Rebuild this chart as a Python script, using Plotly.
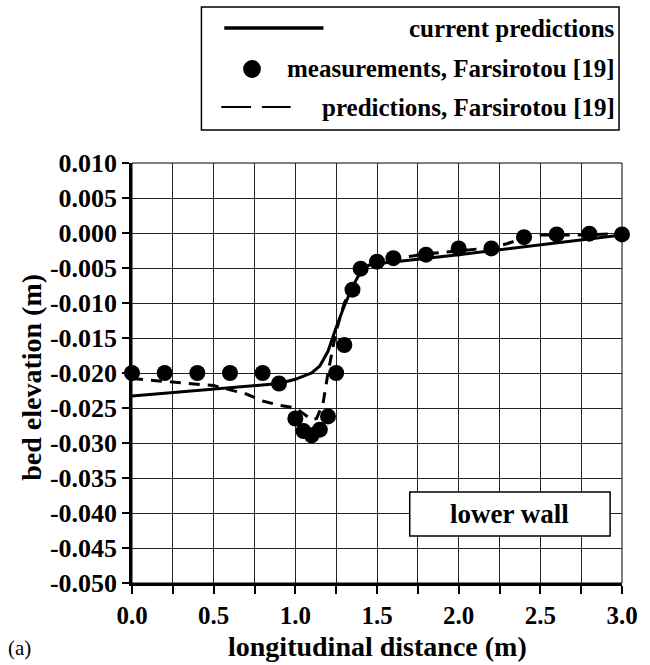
import plotly.graph_objects as go

# ---- data ----
meas_x = [0.0, 0.2, 0.4, 0.6, 0.8, 0.9, 1.0, 1.05, 1.1, 1.15, 1.2, 1.25, 1.3, 1.35,
          1.4, 1.5, 1.6, 1.8, 2.0, 2.2, 2.4, 2.6, 2.8, 3.0]
meas_y = [-0.0200, -0.0200, -0.0200, -0.0200, -0.0200, -0.0215, -0.0265, -0.0283,
          -0.0289, -0.0281, -0.0262, -0.0200, -0.0160, -0.0081, -0.0051, -0.0041,
          -0.0036, -0.0031, -0.0022, -0.0022, -0.0006, -0.0002, -0.0001, -0.0002]

cur_x = [0.0, 0.5, 0.9, 1.0, 1.1, 1.15, 1.2, 1.25, 1.3, 1.35, 1.4, 1.45, 1.5, 2.0, 2.5, 3.0]
cur_y = [-0.0233, -0.0223, -0.0215, -0.0209, -0.0200, -0.0190, -0.0169, -0.0135,
         -0.0104, -0.0077, -0.0055, -0.0046, -0.0044, -0.0031, -0.0017, -0.0003]

far_x = [0.0, 0.2, 0.35, 0.5, 0.7, 0.8, 0.9, 1.0, 1.05, 1.1, 1.13, 1.17, 1.2, 1.25,
         1.3, 1.35, 1.4, 1.5, 1.6, 1.8, 2.0, 2.2, 2.3, 2.4, 2.5, 2.7, 3.0]
far_y = [-0.0208, -0.0212, -0.0215, -0.0218, -0.0230, -0.0240, -0.0246, -0.0250,
         -0.0258, -0.0267, -0.0265, -0.0243, -0.0200, -0.0140, -0.0100, -0.0075,
         -0.0052, -0.0042, -0.0037, -0.0030, -0.0025, -0.0021, -0.0015, -0.0007,
         -0.0003, -0.0003, -0.0001]

x_tick_vals = [0.0, 0.25, 0.5, 0.75, 1.0, 1.25, 1.5, 1.75, 2.0, 2.25, 2.5, 2.75, 3.0]
x_tick_text = ["0.0", "", "0.5", "", "1.0", "", "1.5", "", "2.0", "", "2.5", "", "3.0"]
y_tick_vals = [0.010, 0.005, 0.000, -0.005, -0.010, -0.015, -0.020, -0.025, -0.030,
               -0.035, -0.040, -0.045, -0.050]
y_tick_text = ["0.010", "0.005", "0.000", "-0.005", "-0.010", "-0.015", "-0.020",
               "-0.025", "-0.030", "-0.035", "-0.040", "-0.045", "-0.050"]

legend_labels = ["current predictions", "measurements, Farsirotou [19]",
                 "predictions, Farsirotou [19]"]

# ---- layout geometry (pixels) ----
W, H = 650, 665
L, R, T, B = 132, 626, 163, 583
FONT = "Liberation Serif"


def px(xp):
    return (xp - L) / (R - L)


def py(yp):
    return (B - yp) / (B - T)


fig = go.Figure()
fig.add_trace(go.Scatter(x=far_x, y=far_y, mode="lines",
                         line=dict(color="black", width=3, dash="11px,8px"),
                         name=legend_labels[2], showlegend=False))
fig.add_trace(go.Scatter(x=cur_x, y=cur_y, mode="lines",
                         line=dict(color="black", width=3),
                         name=legend_labels[0], showlegend=False))
fig.add_trace(go.Scatter(x=meas_x, y=meas_y, mode="markers",
                         marker=dict(color="black", size=16),
                         name=legend_labels[1], showlegend=False, cliponaxis=False))

shapes = []
# plot border (top/right thin)
shapes.append(dict(type="rect", xref="paper", yref="paper", x0=0, x1=1, y0=0, y1=1,
                   line=dict(color="black", width=1), layer="below"))
# legend box
shapes.append(dict(type="rect", xref="paper", yref="paper", x0=px(202), x1=px(623),
                   y0=py(130), y1=py(7), line=dict(color="black", width=1.5),
                   fillcolor="white", layer="above"))
shapes.append(dict(type="line", xref="paper", yref="paper", x0=px(225), x1=px(325),
                   y0=py(28), y1=py(28), line=dict(color="black", width=3.5)))
shapes.append(dict(type="circle", xref="paper", yref="paper", x0=px(244), x1=px(262),
                   y0=py(78), y1=py(60), fillcolor="black", line=dict(color="black", width=0)))
for a, b in [(222, 252), (263, 292)]:
    shapes.append(dict(type="line", xref="paper", yref="paper", x0=px(a), x1=px(b),
                       y0=py(107), y1=py(107), line=dict(color="black", width=2)))
# lower wall box
shapes.append(dict(type="rect", xref="paper", yref="paper", x0=px(412), x1=px(614),
                   y0=py(536), y1=py(492), line=dict(color="black", width=1.5),
                   fillcolor="white", layer="above"))

annotations = []
for label, yy in zip(legend_labels, [28, 69, 107]):
    annotations.append(dict(text=label, xref="paper", yref="paper", x=px(621), y=py(yy),
                            xanchor="right", yanchor="middle", showarrow=False,
                            font=dict(family=FONT, size=25, color="black", weight="bold")))
annotations.append(dict(text="lower wall", xref="paper", yref="paper", x=px(513), y=py(514),
                        xanchor="center", yanchor="middle", showarrow=False,
                        font=dict(family=FONT, size=27, color="black", weight="bold")))
annotations.append(dict(text="longitudinal distance (m)", xref="paper", yref="paper",
                        x=0.5, y=py(646), xanchor="center", yanchor="middle",
                        showarrow=False,
                        font=dict(family=FONT, size=28, color="black", weight="bold")))
annotations.append(dict(text="bed elevation (m)", xref="paper", yref="paper",
                        x=px(30), y=py(377), xanchor="center", yanchor="middle",
                        textangle=-90, showarrow=False,
                        font=dict(family=FONT, size=28, color="black", weight="bold")))
annotations.append(dict(text="(a)", xref="paper", yref="paper", x=px(19), y=py(648),
                        xanchor="center", yanchor="middle", showarrow=False,
                        font=dict(family=FONT, size=21, color="black", weight="normal")))

fig.update_layout(
    width=W, height=H,
    margin=dict(l=L, r=W - R, t=T, b=H - B, pad=0),
    paper_bgcolor="white", plot_bgcolor="white",
    font=dict(family=FONT, color="black", size=25, weight="bold"),
    shapes=shapes, annotations=annotations, showlegend=False,
    xaxis=dict(range=[0, 3], tickmode="array", tickvals=x_tick_vals, ticktext=x_tick_text,
               showgrid=True, gridcolor="#222", gridwidth=1, zeroline=False,
               showline=True, linecolor="black", linewidth=2.5,
               ticks="outside", ticklen=8, tickwidth=1.5, tickcolor="black",
               tickfont=dict(family=FONT, size=25, color="black", weight="bold")),
    yaxis=dict(range=[-0.050, 0.010], tickmode="array", tickvals=y_tick_vals,
               ticktext=y_tick_text,
               showgrid=True, gridcolor="#222", gridwidth=1, zeroline=False,
               showline=True, linecolor="black", linewidth=2.5,
               ticks="outside", ticklen=7, tickwidth=1.5, tickcolor="black",
               tickfont=dict(family=FONT, size=26, color="black", weight="bold")),
)

fig.write_html("out.html")
